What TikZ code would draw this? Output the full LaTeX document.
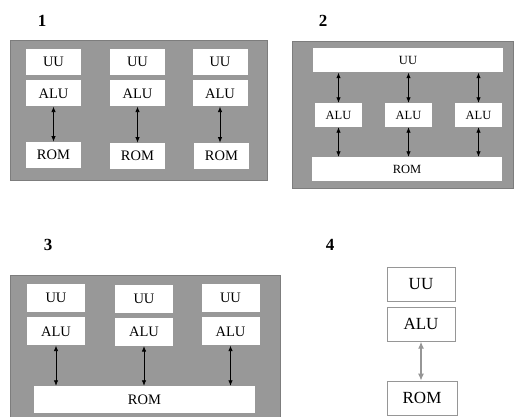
\documentclass[tikz,border=0pt]{standalone}
\usepackage{fontspec}
\setmainfont{Liberation Serif}
\usepackage{xcolor}
\usetikzlibrary{arrows.meta, positioning}
\definecolor{panelgray}{RGB}{152,152,152}
\definecolor{panelline}{RGB}{125,125,125}
\definecolor{lightline}{RGB}{150,150,150}

\begin{document}
\begin{tikzpicture}[x=1pt, y=-1pt,
  panel/.style={fill=panelgray, draw=panelline, line width=0.8pt},
  cell/.style={fill=white, inner sep=0pt, minimum width=55pt, minimum height=26pt,
               font=\fontsize{14.5}{14.5}\selectfont},
  bar/.style={fill=white, inner sep=0pt, minimum height=24pt,
              font=\fontsize{12.5}{12.5}\selectfont},
  small/.style={fill=white, inner sep=0pt, minimum width=47pt, minimum height=24pt,
                font=\fontsize{12.5}{12.5}\selectfont},
  big/.style={fill=white, inner sep=0pt, minimum width=58pt, minimum height=28pt,
              font=\fontsize{14.5}{14.5}\selectfont},
  solo/.style={fill=white, draw=lightline, line width=0.8pt, inner sep=0pt,
               minimum width=68pt, minimum height=34pt, font=\fontsize{17}{17}\selectfont},
  num/.style={font=\fontsize{17}{17}\selectfont\bfseries},
  arr/.style={{Latex[length=5.5pt,width=4.5pt]}-{Latex[length=5.5pt,width=4.5pt]}, line width=0.8pt},
  grayarr/.style={{Latex[length=7pt,width=6pt]}-{Latex[length=7pt,width=6pt]}, lightline, line width=1.2pt}
]
\useasboundingbox (0,0) rectangle (514,417);

% 1
\node[num] (n1) at (42,21) {1};
\fill[panel] (10,40) rectangle (267,180);
\node[cell] (uu1a) at (53.5,62) {UU};
\node[cell, below=5pt of uu1a] (alu1a) {ALU};
\node[cell, below=35pt of alu1a] (rom1a) {ROM};
\node[cell] (uu1b) at (137.5,62) {UU};
\node[cell, below=5pt of uu1b] (alu1b) {ALU};
\node[cell, below=36pt of alu1b] (rom1b) {ROM};
\node[cell] (uu1c) at (220,62) {UU};
\node[cell, below=5pt of uu1c] (alu1c) {ALU};
\node[cell, below=36pt of alu1c, xshift=1.5pt] (rom1c) {ROM};
\draw[arr] (alu1a.south) -- (rom1a.north -| alu1a.south);
\draw[arr] (alu1b.south) -- (rom1b.north);
\draw[arr] (alu1c.south) -- (rom1c.north -| alu1c.south);

% 2
\node[num] (n2) at (323,21) {2};
\fill[panel] (292,41) rectangle (513,188);
\node[bar, minimum width=190pt] (uu2) at (408,60.5) {UU};
\node[small] (alu2a) at (338.5,115) {ALU};
\node[small] (alu2b) at (408.5,115) {ALU};
\node[small] (alu2c) at (478.5,115) {ALU};
\node[bar, minimum width=190pt] (rom2) at (407,169) {ROM};
\foreach \a in {alu2a, alu2b, alu2c} {
  \draw[arr] (uu2.south -| \a.north) -- (\a.north);
  \draw[arr] (\a.south) -- (rom2.north -| \a.south);
}

% 3
\node[num] (n3) at (48,245) {3};
\fill[panel] (10,275) rectangle (280,417);
\node[big] (uu3a) at (56,298) {UU};
\node[big, below=5pt of uu3a] (alu3a) {ALU};
\node[big] (uu3b) at (144,298.5) {UU};
\node[big, below=5pt of uu3b] (alu3b) {ALU};
\node[big] (uu3c) at (230.5,298) {UU};
\node[big, below=5pt of uu3c] (alu3c) {ALU};
\node[big, minimum width=221pt, minimum height=27pt] (rom3) at (144.5,399.5) {ROM};
\draw[arr] (alu3a.south) -- (rom3.north -| alu3a.south);
\draw[arr] (alu3b.south) -- (rom3.north -| alu3b.south);
\draw[arr] (alu3c.south) -- (rom3.north -| alu3c.south);

% 4
\node[num] (n4) at (330,245) {4};
\node[solo] (uu4) at (421,284.5) {UU};
\node[solo, below=5pt of uu4] (alu4) {ALU};
\node[solo, minimum width=70pt] (rom4) at (422,398) {ROM};
\draw[grayarr] (alu4.south) -- (rom4.north -| alu4.south);
\end{tikzpicture}
\end{document}
